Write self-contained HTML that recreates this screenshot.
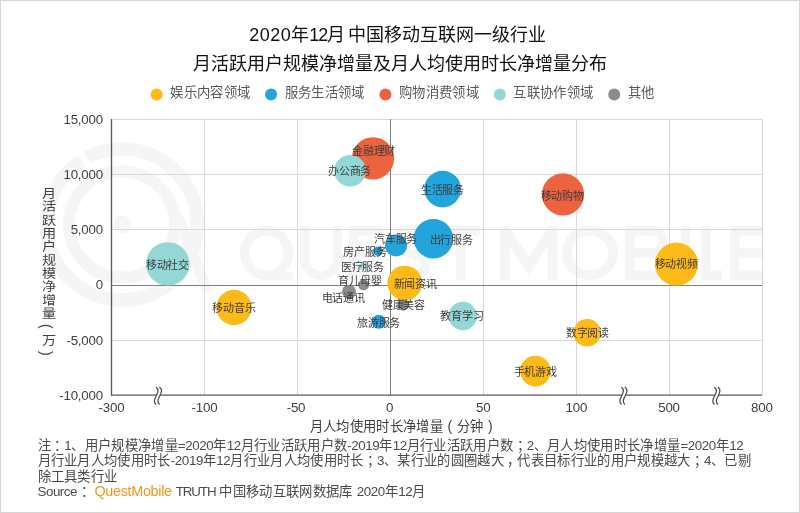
<!DOCTYPE html>
<html lang="zh-CN">
<head>
<meta charset="utf-8">
<title>QuestMobile 2020年12月 中国移动互联网一级行业</title>
<style>
  html, body { margin: 0; padding: 0; background: #ffffff; }
  body {
    width: 800px; height: 513px; position: relative; overflow: hidden;
    font-family: "Liberation Sans", sans-serif; color: #262626;
  }
  #frame { position: absolute; left: 0; top: 0; width: 798px; height: 511px; border: 1px solid #d6d6d6; z-index: 9; pointer-events: none; }
  svg#plot { position: absolute; left: 0; top: 0; }
  #txt { position: absolute; left: 0; top: 0; width: 800px; height: 513px; will-change: transform; }
  .t { position: absolute; white-space: nowrap; }
  .title { left: 0; width: 800px; text-align: center; font-size: 18px; line-height: 28px; color: #111111; }
  .lg { font-size: 13.33px; line-height: 16px; color: #595959; top: 84.5px; letter-spacing: 0.33px; }
  .ya { font-size: 13.33px; line-height: 16px; color: #404040; width: 60px; left: 43px; text-align: right; letter-spacing: -0.2px; }
  .xa { font-size: 13.33px; line-height: 16px; color: #404040; width: 60px; text-align: center; top: 399.5px; letter-spacing: -0.2px; }
  .bl { font-size: 11px; line-height: 14px; color: #3c3c3c; width: 60px; text-align: center; letter-spacing: -0.2px; text-indent: -0.2px; }
  .axt { font-size: 13.33px; line-height: 16px; color: #404040; letter-spacing: 0.33px; }
  .pr { display: inline-block; inline-size: 13.66px; text-align: center; letter-spacing: 0; font-size: 14px; }
  .note { left: 37.5px; top: 437.5px; font-size: 13.33px; line-height: 15.5px; color: #4a4a4a; letter-spacing: 0.33px; }
  .note b { font-weight: normal; position: relative; left: 3.5px; }
  .note i { font-style: normal; letter-spacing: -0.4px; }
  .qm { color: #f7941d; font-size: 14.4px; letter-spacing: -0.32px; }
  .note .sr { letter-spacing: -0.45px; }
  .note .tr { letter-spacing: -1.1px; }
</style>
</head>
<body>
<svg id="plot" width="800" height="513" viewBox="0 0 800 513">
  <!-- watermark -->
  <clipPath id="pc"><rect x="0" y="100" width="762.5" height="300"/></clipPath>
  <g id="wm" fill="none" stroke="#f5f5f5" clip-path="url(#pc)">
    <circle cx="122" cy="224.5" r="75.5" stroke-width="13.5"/>
    <circle cx="122" cy="224.5" r="53" stroke-width="12"/>
    <circle cx="122" cy="224.5" r="9" fill="#f5f5f5" stroke="none"/>
    <path d="M177 216 L208 292" stroke-width="11"/>
    <path d="M108 200.25 L76 144.8" stroke="#ffffff" stroke-width="6.5"/>
    <g stroke-width="9.5">
      <ellipse cx="266.5" cy="253" rx="21.75" ry="22.25"/>
      <path d="M266 276.25 H293" stroke-width="7.5"/>
      <path d="M304.5 226 V259 A16.5 16.5 0 0 0 337.5 259 V226" stroke-width="9"/>
      <path d="M353.75 226 V280 M349 230.75 H383 M349 253 H381 M349 275.25 H383"/>
      <path d="M425.5 240 C425.5 226 395.5 226 395.5 241 C395.5 256 425.5 250 425.5 265 C425.5 280 395.5 280 395.5 266"/>
      <path d="M442 230.75 H480 M461 226 V280"/>
      <path d="M505 280 V226 M552.5 280 V226 M505 230 L528.75 266 L552.5 230" stroke-width="10"/>
      <ellipse cx="590" cy="253" rx="23.25" ry="22.25"/>
      <path d="M629.75 226 V280 M625 230.75 H652 A11 11 0 0 1 652 252.75 H630 M652 252.75 A11.25 11.25 0 0 1 652 275.25 H625"/>
      <path d="M685.5 226 V280" stroke-width="9"/>
      <path d="M705.75 226 V280 M701 275.25 H722"/>
      <path d="M734.75 226 V280 M730 230.75 H766 M730 253 H764 M730 275.25 H766"/>
    </g>
  </g>

  <!-- gridlines -->
  <g stroke="#d9d9d9" stroke-width="1" shape-rendering="crispEdges">
    <line x1="111" y1="119.5" x2="762.5" y2="119.5"/>
    <line x1="111" y1="174.5" x2="762.5" y2="174.5"/>
    <line x1="111" y1="229.5" x2="762.5" y2="229.5"/>
    <line x1="111" y1="340.5" x2="762.5" y2="340.5"/>
    <line x1="204.5" y1="119" x2="204.5" y2="395"/>
    <line x1="297.5" y1="119" x2="297.5" y2="395"/>
    <line x1="483.5" y1="119" x2="483.5" y2="395"/>
    <line x1="576.5" y1="119" x2="576.5" y2="395"/>
    <line x1="669.5" y1="119" x2="669.5" y2="395"/>
    <line x1="762.5" y1="119" x2="762.5" y2="395"/>
  </g>
  <!-- axes -->
  <g stroke="#7f7f7f" stroke-width="1" shape-rendering="crispEdges">
    <line x1="111" y1="285.5" x2="762" y2="285.5"/>
    <line x1="390.5" y1="119" x2="390.5" y2="395"/>
  </g>
  <g stroke="#595959" stroke-width="1.33">
    <line x1="111.5" y1="119" x2="111.5" y2="395.6"/>
    <line x1="111" y1="395.2" x2="762" y2="395.2"/>
  </g>
  <!-- axis breaks -->
  <g id="brk">
    <g transform="translate(155.9 0)">
      <path d="M0 386.9 C7 392 -6 399.5 0.2 404.6 L3.7 404.6 C-2.5 399.5 10.5 392 3.5 386.9 Z" fill="#ffffff" stroke="none"/>
      <path d="M0 386.9 C7 392 -6 399.5 0.2 404.6 M3.5 386.9 C10.5 392 -2.5 399.5 3.7 404.6" fill="none" stroke="#4d4d4d" stroke-width="1.25"/>
    </g>
    <g transform="translate(621.3 0)">
      <path d="M0 386.9 C7 392 -6 399.5 0.2 404.6 L3.7 404.6 C-2.5 399.5 10.5 392 3.5 386.9 Z" fill="#ffffff" stroke="none"/>
      <path d="M0 386.9 C7 392 -6 399.5 0.2 404.6 M3.5 386.9 C10.5 392 -2.5 399.5 3.7 404.6" fill="none" stroke="#4d4d4d" stroke-width="1.25"/>
    </g>
    <g transform="translate(714.3 0)">
      <path d="M0 386.9 C7 392 -6 399.5 0.2 404.6 L3.7 404.6 C-2.5 399.5 10.5 392 3.5 386.9 Z" fill="#ffffff" stroke="none"/>
      <path d="M0 386.9 C7 392 -6 399.5 0.2 404.6 M3.5 386.9 C10.5 392 -2.5 399.5 3.7 404.6" fill="none" stroke="#4d4d4d" stroke-width="1.25"/>
    </g>
  </g>

  <!-- bubbles -->
  <g fill="#feba16">
    <circle cx="676.5" cy="264.1" r="21.5"/>
    <circle cx="234" cy="307.5" r="17.65"/>
    <circle cx="404.75" cy="283.1" r="17.35"/>
    <circle cx="587.1" cy="332.75" r="13.7"/>
    <circle cx="535.5" cy="371.1" r="15.3"/>
  </g>
  <g fill="#22a4dc">
    <circle cx="442.6" cy="189.1" r="18.35"/>
    <circle cx="433.4" cy="238.7" r="19.7"/>
    <circle cx="396" cy="245.4" r="11"/>
    <circle cx="378" cy="251.25" r="4.75"/>
    <circle cx="378.75" cy="321.75" r="7"/>
  </g>
  <g fill="#ed6340">
    <circle cx="372.95" cy="158.4" r="21.15"/>
    <circle cx="563" cy="194.4" r="21.1"/>
  </g>
  <g fill="#93d7d7">
    <circle cx="167.75" cy="263.9" r="21.7"/>
    <circle cx="350.1" cy="170.75" r="15.8"/>
    <circle cx="462.75" cy="316" r="14.25"/>
    <circle cx="362.5" cy="266.3" r="3.5"/>
  </g>
  <g fill="#8c8c8c">
    <circle cx="363.6" cy="284.8" r="5.5"/>
    <circle cx="349" cy="291.75" r="7"/>
    <circle cx="403" cy="305" r="5.75"/>
  </g>

  <!-- legend markers -->
  <circle cx="156.65" cy="94.5" r="6" fill="#feba16"/>
  <circle cx="271.05" cy="94.5" r="6" fill="#22a4dc"/>
  <circle cx="385.45" cy="94.5" r="6" fill="#ed6340"/>
  <circle cx="499.85" cy="94.5" r="6" fill="#93d7d7"/>
  <circle cx="614.25" cy="94.5" r="6" fill="#8c8c8c"/>
</svg>

<div id="txt">
<div class="t title" style="top:20.5px; left:-2.2px; word-spacing:-2px"><span style="letter-spacing:0.5px">2020</span>年<span style="letter-spacing:-1px">12</span>月 中国移动互联网一级行业</div>
<div class="t title" style="top:49.5px">月活跃用户规模净增量及月人均使用时长净增量分布</div>

<div class="t lg" style="left:170.2px">娱乐内容领域</div>
<div class="t lg" style="left:284.6px">服务生活领域</div>
<div class="t lg" style="left:399px">购物消费领域</div>
<div class="t lg" style="left:513.4px">互联协作领域</div>
<div class="t lg" style="left:627.8px">其他</div>

<div class="t ya" style="top:112.2px">15,000</div>
<div class="t ya" style="top:167.1px">10,000</div>
<div class="t ya" style="top:222.3px">5,000</div>
<div class="t ya" style="top:277.3px">0</div>
<div class="t ya" style="top:332.5px">-5,000</div>
<div class="t ya" style="top:387.6px">-10,000</div>

<div class="t xa" style="left:81.5px">-300</div>
<div class="t xa" style="left:174.5px">-100</div>
<div class="t xa" style="left:266px">-50</div>
<div class="t xa" style="left:359.6px">0</div>
<div class="t xa" style="left:453.3px">50</div>
<div class="t xa" style="left:546.3px">100</div>
<div class="t xa" style="left:639px">500</div>
<div class="t xa" style="left:731.8px">800</div>

<div class="t axt" style="left:39.3px; top:186.5px; writing-mode: vertical-rl; width:16px; line-height:16px; font-size:12.5px; letter-spacing:0.33px; transform:scaleX(1.13); transform-origin:50% 50%;">月活跃用户规模净增量<span class="pr">(</span>万<span class="pr">)</span></div>
<div class="t axt" style="left:309.8px; top:417.5px;">月人均使用时长净增量<span class="pr">(</span>分钟<span class="pr">)</span></div>

<div class="t bl" style="left:343.75px; top:144.2px">金融理财</div>
<div class="t bl" style="left:319.75px; top:164.25px">办公商务</div>
<div class="t bl" style="left:412.5px; top:183px">生活服务</div>
<div class="t bl" style="left:421.25px; top:232.75px">出行服务</div>
<div class="t bl" style="left:365.75px; top:232.4px">汽车服务</div>
<div class="t bl" style="left:335px; top:245px">房产服务</div>
<div class="t bl" style="left:332.5px; top:259.75px">医疗服务</div>
<div class="t bl" style="left:330px; top:274.25px">育儿母婴</div>
<div class="t bl" style="left:313.25px; top:291.25px">电话通讯</div>
<div class="t bl" style="left:385.4px; top:276.75px">新闻资讯</div>
<div class="t bl" style="left:373.5px; top:297.5px">健康美容</div>
<div class="t bl" style="left:348.75px; top:316px">旅游服务</div>
<div class="t bl" style="left:432px; top:309.25px">教育学习</div>
<div class="t bl" style="left:532.25px; top:188.5px">移动购物</div>
<div class="t bl" style="left:646.25px; top:257.25px">移动视频</div>
<div class="t bl" style="left:137.6px; top:257.5px">移动社交</div>
<div class="t bl" style="left:204.1px; top:301px">移动音乐</div>
<div class="t bl" style="left:557.5px; top:326px">数字阅读</div>
<div class="t bl" style="left:505.25px; top:364.75px">手机游戏</div>

<div class="t note">注<b>：</b><i>1</i>、用户规模净增量<i>=2020</i>年<i>12</i>月行业活跃用户数<i>-2019</i>年<i>12</i>月行业活跃用户数<b>；</b><i>2</i>、月人均使用时长净增量<i>=2020</i>年<i>12</i><br>月行业月人均使用时长<i>-2019</i>年<i>12</i>月行业月人均使用时长<b>；</b><i>3</i>、某行业的圆圈越大<b>，</b>代表目标行业的用户规模越大<b>；</b><i>4</i>、已剔<br>除工具类行业<br><span class="sr">Source</span><b>：</b> <span class="qm">QuestMobile</span> <span class="tr">TRUTH</span> 中国移动互联网数据库 <i>2020</i>年<i>12</i>月</div>
</div>
<div id="frame"></div>
</body>
</html>
